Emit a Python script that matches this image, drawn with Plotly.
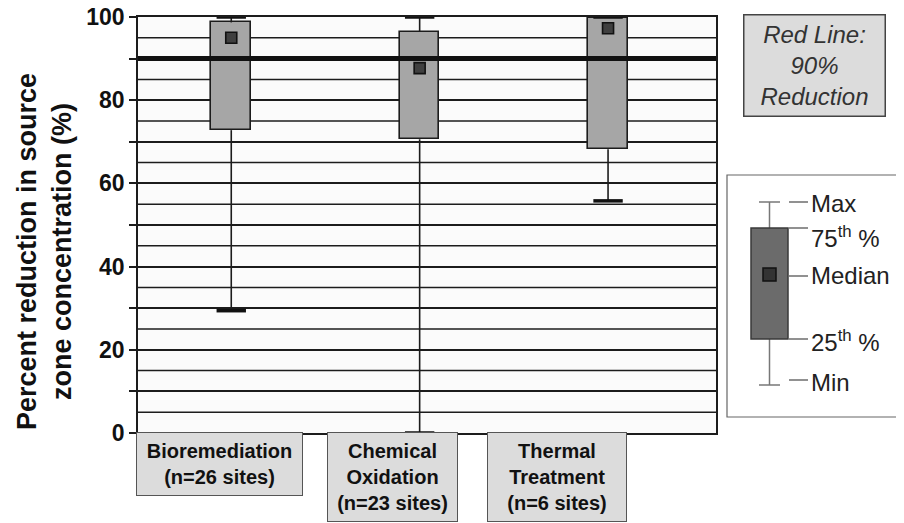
import plotly.graph_objects as go

# ---------------- data ----------------
categories = ["Bioremediation", "Chemical Oxidation", "Thermal Treatment"]
category_labels = ["Bioremediation<br>(n=26 sites)",
                   "Chemical<br>Oxidation<br>(n=23 sites)",
                   "Thermal<br>Treatment<br>(n=6 sites)"]
v_min = [29.4, 0.0, 55.8]
v_q1 = [72.8, 70.6, 68.2]
v_median = [95.0, 87.7, 97.3]
v_q3 = [98.7, 96.5, 99.8]
v_max = [100.0, 100.0, 100.0]
target_reduction = 90
half_step_gridlines = [5, 15, 25, 35, 45, 55, 65, 75, 85, 95]
legend_items = ["Max", "75<sup>th</sup> %", "Median", "25<sup>th</sup> %", "Min"]

# ---------------- layout geometry (screen pixels; page body has an 8px offset) ----------------
OFF = 8
W, H = 904 - OFF, 523 - OFF
ML, MR, MT, MB = 138 - OFF, 188, 17 - OFF, 90
PW, PH = W - ML - MR, H - MT - MB


def px(x_screen):
    return (x_screen - OFF - ML) / PW


def py(y_screen):
    return (H - MB - (y_screen - OFF)) / PH


FONT = "Arial, 'Liberation Sans', sans-serif"
DARK = "#1c1c1c"

fig = go.Figure()

# whiskers
wx, wy = [], []
for c, lo, q1, q3, hi in zip(categories, v_min, v_q1, v_q3, v_max):
    wx += [c, c, None, c, c, None]
    wy += [q3, hi, None, q1, lo, None]
fig.add_trace(go.Scatter(x=wx, y=wy, mode="lines",
                         line=dict(color=DARK, width=1.6),
                         hoverinfo="skip", showlegend=False))

# boxes (q1..q3)
fig.add_trace(go.Bar(x=categories, y=[b - a for a, b in zip(v_q1, v_q3)],
                     base=v_q1, width=0.21,
                     marker=dict(color="#a6a6a6", line=dict(color=DARK, width=1.6)),
                     showlegend=False))

# whisker caps
fig.add_trace(go.Scatter(x=categories + categories, y=v_max + v_min, mode="markers",
                         marker=dict(symbol="line-ew", size=21,
                                     line=dict(color="#111111", width=3.5)),
                         cliponaxis=False, showlegend=False))

# medians
fig.add_trace(go.Scatter(x=categories, y=v_median, mode="markers",
                         marker=dict(symbol="square", size=11, color="#3f3f3f",
                                     line=dict(color="#111111", width=1.6)),
                         showlegend=False))

shapes = []
# gridlines at the half steps (beneath the boxes)
for g in half_step_gridlines:
    shapes.append(dict(type="line", xref="paper", x0=0, x1=1, yref="y", y0=g, y1=g,
                       line=dict(color=DARK, width=1.5), layer="below"))
# 90% reduction line
shapes.append(dict(type="line", xref="paper", x0=0, x1=1, yref="y",
                   y0=target_reduction, y1=target_reduction,
                   line=dict(color="#111111", width=5), layer="above"))

# legend key box
shapes.append(dict(type="rect", xref="paper", yref="paper",
                   x0=px(727), x1=px(907), y0=py(417), y1=py(175),
                   line=dict(color="#666666", width=1.2), fillcolor="white", layer="above"))
# mini whiskers
for y0, y1 in [(202, 228), (339, 385)]:
    shapes.append(dict(type="line", xref="paper", yref="paper",
                       x0=px(769.5), x1=px(769.5), y0=py(y0), y1=py(y1),
                       line=dict(color="#777777", width=1.5), layer="above"))
for yy in [202, 385]:
    shapes.append(dict(type="line", xref="paper", yref="paper",
                       x0=px(759), x1=px(780), y0=py(yy), y1=py(yy),
                       line=dict(color="#777777", width=1.5), layer="above"))
# mini box
shapes.append(dict(type="rect", xref="paper", yref="paper",
                   x0=px(751), x1=px(788), y0=py(339), y1=py(228),
                   line=dict(color="#3a3a3a", width=1.5), fillcolor="#6b6b6b", layer="above"))
shapes.append(dict(type="rect", xref="paper", yref="paper",
                   x0=px(763), x1=px(776), y0=py(281), y1=py(268),
                   line=dict(color="#111111", width=1.5), fillcolor="#333333", layer="above"))
# key pointer lines
key_y = [202, 228, 276, 339, 380]
text_y = [204, 237, 275, 341, 382]
for yy in key_y:
    shapes.append(dict(type="line", xref="paper", yref="paper",
                       x0=px(789), x1=px(808), y0=py(yy), y1=py(yy),
                       line=dict(color="#555555", width=1.3), layer="above"))

annotations = []
# y-axis title
annotations.append(dict(text="Percent reduction in source<br>zone concentration (%)",
                        xref="paper", yref="paper", x=px(44), y=py(252),
                        xanchor="center", yanchor="middle", textangle=-90, showarrow=False,
                        font=dict(family=FONT, size=27, color="#111111", weight="bold")))
# category label boxes
label_cx = [219.5, 392.5, 557]
label_h = [62, 88, 88]
label_w = [165, 129, 138]
for lab, cx, hh, ww in zip(category_labels, label_cx, label_h, label_w):
    annotations.append(dict(text=lab, xref="paper", yref="paper", x=px(cx), y=0,
                            xanchor="center", yanchor="top", yshift=1, showarrow=False,
                            width=ww, height=hh, borderpad=0,
                            bgcolor="#dcdcdc", bordercolor="#555555", borderwidth=1,
                            font=dict(family=FONT, size=20, color="#111111", weight="bold")))
# red line note
annotations.append(dict(text="Red Line:<br>90%<br>Reduction", xref="paper", yref="paper",
                        x=px(814.5), y=py(65.5), xanchor="center", yanchor="middle",
                        showarrow=False, width=140, height=100, borderpad=0,
                        bgcolor="#dcdcdc", bordercolor="#444444", borderwidth=1.5,
                        font=dict(family=FONT, size=24, color="#333333", style="italic")))
# key labels
for t, yy in zip(legend_items, text_y):
    annotations.append(dict(text=t, xref="paper", yref="paper", x=px(809), y=py(yy),
                            xanchor="left", yanchor="middle", showarrow=False,
                            font=dict(family=FONT, size=24, color="#222222")))

fig.update_layout(
    width=W, height=H,
    margin=dict(l=ML, r=MR, t=MT, b=MB, pad=0),
    paper_bgcolor="white", plot_bgcolor="#fbfbfb",
    showlegend=False, bargap=0,
    xaxis=dict(type="category", range=[-0.495, 2.573], showticklabels=False,
               showgrid=False, zeroline=False, showline=True, mirror=True,
               linecolor=DARK, linewidth=1.5, ticks="", automargin=False),
    yaxis=dict(range=[0, 100], dtick=20, tick0=0,
               ticks="outside", ticklen=7, tickcolor=DARK, tickwidth=1.5,
               showline=True, mirror=True, linecolor=DARK, linewidth=1.8,
               showgrid=True, gridcolor=DARK, gridwidth=1.5, zeroline=False,
               automargin=False, ticklabeloverflow="allow",
               minor=dict(dtick=10, tick0=0, showgrid=True, gridcolor=DARK, gridwidth=1.5,
                          ticks="outside", ticklen=7, tickcolor=DARK, tickwidth=1.5),
               tickfont=dict(family=FONT, size=23, color="#111111", weight="bold")),
    shapes=shapes, annotations=annotations,
    font=dict(family=FONT),
)

fig.write_html("out.html")
